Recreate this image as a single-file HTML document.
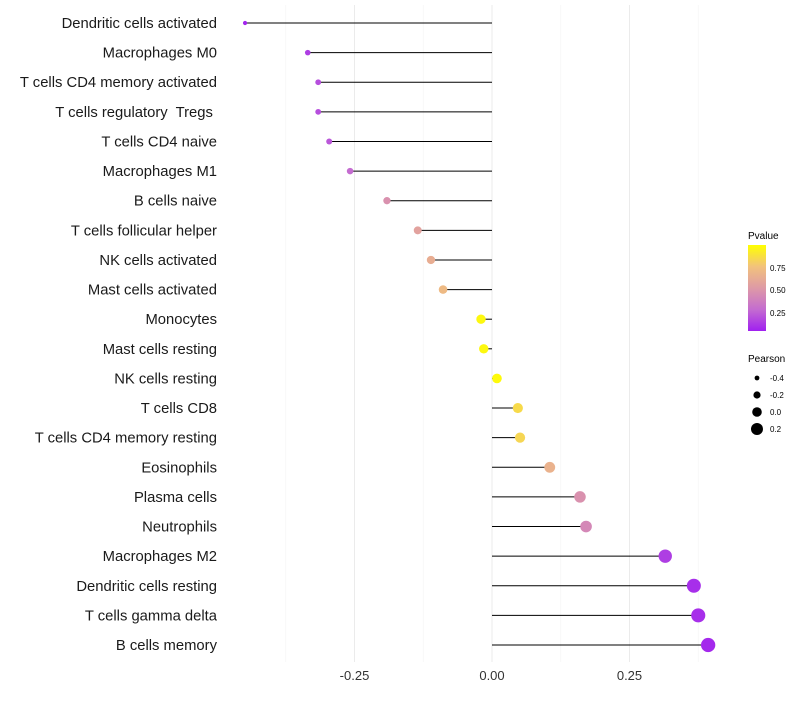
<!DOCTYPE html>
<html><head><meta charset="utf-8"><style>
body{margin:0;background:#fff;font-family:"Liberation Sans",sans-serif}
text{white-space:pre}
</style></head><body>
<svg id="chart" width="800" height="700" xmlns="http://www.w3.org/2000/svg">
<defs><linearGradient id="pg" x1="0" y1="1" x2="0" y2="0">
<stop offset="0" stop-color="#a020f0"/><stop offset="0.25" stop-color="#c46cd0"/><stop offset="0.5" stop-color="#de9aa6"/><stop offset="0.75" stop-color="#f2c27c"/><stop offset="1" stop-color="#ffff00"/></linearGradient></defs>
<g id="grid"></g><g id="marks"></g><g id="labels"></g><g id="ticks"></g>
<g>
<text x="748" y="239" font-size="10" fill="#000">Pvalue</text>
<rect x="748" y="245" width="18" height="86" fill="url(#pg)"/>
<text x="770" y="271" font-size="8" fill="#000">0.75</text>
<text x="770" y="293" font-size="8" fill="#000">0.50</text>
<text x="770" y="316" font-size="8" fill="#000">0.25</text>
</g>
<g id="pearson-legend">
<text x="748" y="362" font-size="10" fill="#000">Pearson</text>
</g>
</svg>
<script>
const cells=["Dendritic cells activated","Macrophages M0","T cells CD4 memory activated","T cells regulatory  Tregs ","T cells CD4 naive","Macrophages M1","B cells naive","T cells follicular helper","NK cells activated","Mast cells activated","Monocytes","Mast cells resting","NK cells resting","T cells CD8","T cells CD4 memory resting","Eosinophils","Plasma cells","Neutrophils","Macrophages M2","Dendritic cells resting","T cells gamma delta","B cells memory"];
const pearson=[-0.449,-0.335,-0.316,-0.316,-0.296,-0.258,-0.191,-0.135,-0.111,-0.089,-0.020,-0.015,0.009,0.047,0.051,0.105,0.160,0.171,0.315,0.367,0.375,0.393];
const pvalue=[0.02,0.1,0.15,0.15,0.18,0.25,0.45,0.55,0.62,0.7,0.97,0.97,0.98,0.85,0.83,0.65,0.45,0.4,0.1,0.05,0.05,0.03];
const xTicks=[-0.25,0,0.25];
const xTickLabels=["-0.25","0.00","0.25"];
const legendVals=[-0.4,-0.2,0.0,0.2];
const NS="http://www.w3.org/2000/svg";
const X=v=>492+v*550;
const Y=i=>23+i*(622/21);
const R=p=>Math.max(1.6,4.8+6*p);
const stops=[[0,[160,32,240]],[0.25,[196,108,208]],[0.5,[222,154,166]],[0.75,[242,194,124]],[1,[255,255,0]]];
function col(p){for(let k=1;k<stops.length;k++){if(p<=stops[k][0]){const a=stops[k-1],b=stops[k],t=(p-a[0])/(b[0]-a[0]);return "rgb("+a[1].map((c,j)=>Math.round(c+(b[1][j]-c)*t)).join(",")+")";}}return "rgb(255,255,0)";}
function mk(t,a,par){const e=document.createElementNS(NS,t);for(const k in a)e.setAttribute(k,a[k]);document.getElementById(par).appendChild(e);return e;}
[-0.375,-0.25,-0.125,0,0.125,0.25,0.375].forEach(v=>{
 const l=mk("line",{x1:X(v),x2:X(v),y1:5,y2:662,stroke:Number.isInteger(v*4)?"#ebebeb":"#f4f4f4","stroke-width":Number.isInteger(v*4)?1:0.6},"grid");
 
 
});
cells.forEach((c,i)=>{
 const s=mk("line",{x1:X(0),x2:X(pearson[i]),y1:Y(i),y2:Y(i),stroke:"#000","stroke-width":1},"marks");
 
 
 const d=mk("circle",{cx:X(pearson[i]),cy:Y(i),r:R(pearson[i]),fill:col(pvalue[i])},"marks");
 
 
 const t=mk("text",{x:217,y:Y(i)+5,"text-anchor":"end","font-size":14.8,fill:"#1a1a1a"},"labels");
 t.textContent=c;
 
 
});
xTicks.forEach((v,i)=>{
 const t=mk("text",{x:X(v),y:680,"text-anchor":"middle","font-size":13,fill:"#333"},"ticks");
 t.textContent=xTickLabels[i];
 
 
});
legendVals.forEach((v,i)=>{
 const c=mk("circle",{cx:757,cy:378+i*17,r:R(v),fill:"#000"},"pearson-legend");
 
 
 const t=mk("text",{x:770,y:381+i*17,"font-size":8,fill:"#000"},"pearson-legend");
 t.textContent=v===0?"0.0":String(v);
 
 
});
</script>
</body></html>
